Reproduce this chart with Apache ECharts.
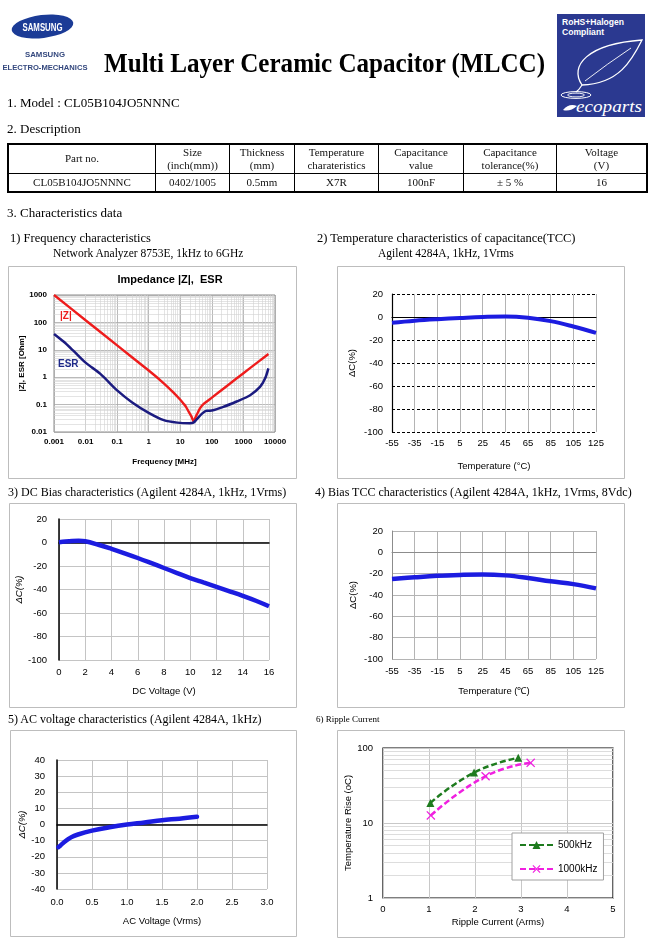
<!DOCTYPE html>
<html><head><meta charset="utf-8">
<script src="https://cdn.jsdelivr.net/npm/echarts@6/dist/echarts.min.js"></script>
<style>
body{margin:0;background:#fff;}
#page{position:relative;width:651px;height:943px;overflow:hidden;background:#fff;}
#chart{position:absolute;left:0;top:0;width:651px;height:943px;}
.t{position:absolute;white-space:nowrap;font-family:'Liberation Serif','Times New Roman',serif;color:#000;line-height:1;}
#desc{position:absolute;left:7px;top:143px;border-collapse:collapse;border:2px solid #000;font-family:'Liberation Serif',serif;font-size:11px;color:#111;}
#desc td{border:1px solid #000;text-align:center;padding:0;line-height:13px;}
</style></head>
<body>
<div id="page">
<div id="chart"></div>

<!-- header -->
<svg style="position:absolute;left:0;top:0" width="560" height="90">
  <ellipse cx="42.5" cy="26.5" rx="31" ry="11.5" transform="rotate(-7 42.5 26.5)" fill="#1b3b96"/>
  <text x="42.5" y="30.5" text-anchor="middle" font-family="Liberation Sans" font-weight="bold" font-size="10" fill="#fff" textLength="40" lengthAdjust="spacingAndGlyphs">SAMSUNG</text>
  <text x="45" y="56.5" text-anchor="middle" font-family="Liberation Sans" font-weight="bold" font-size="8" fill="#34487e" textLength="40" lengthAdjust="spacingAndGlyphs">SAMSUNG</text>
  <text x="45" y="69.5" text-anchor="middle" font-family="Liberation Sans" font-weight="bold" font-size="8" fill="#34487e" textLength="85" lengthAdjust="spacingAndGlyphs">ELECTRO-MECHANICS</text>
  <text x="104" y="72" font-family="Liberation Serif" font-weight="bold" font-size="28" fill="#000" textLength="441" lengthAdjust="spacingAndGlyphs">Multi Layer Ceramic Capacitor (MLCC)</text>
</svg>

<svg style="position:absolute;left:557px;top:14px" width="88" height="103">
  <rect x="0" y="0" width="88" height="103" fill="#2b3990"/>
  <text x="5" y="11" font-family="Liberation Sans" font-weight="bold" font-size="9.5" fill="#fff" textLength="62" lengthAdjust="spacingAndGlyphs">RoHS+Halogen</text>
  <text x="5" y="21" font-family="Liberation Sans" font-weight="bold" font-size="9.5" fill="#fff" textLength="42" lengthAdjust="spacingAndGlyphs">Compliant</text>
  <path d="M25 71 C12 52 30 30 85 26 C75 46 62 70 25 71 Z" fill="none" stroke="#fff" stroke-width="1.3"/>
  <path d="M28 67 Q50 50 74 34" fill="none" stroke="#fff" stroke-width="0.9"/>
  <path d="M25 71 Q22 76 19 78" fill="none" stroke="#fff" stroke-width="1.2"/>
  <ellipse cx="19" cy="81" rx="15" ry="3.4" fill="none" stroke="#fff" stroke-width="1"/>
  <ellipse cx="19" cy="81" rx="8.5" ry="1.9" fill="none" stroke="#fff" stroke-width="0.9"/>
  <path d="M6 96 Q12 89 20 92 Q13 98 6 96 Z" fill="#fff"/>
  <text x="19" y="98" font-family="Liberation Serif" font-style="italic" font-size="16" fill="#fff" textLength="66" lengthAdjust="spacingAndGlyphs">ecoparts</text>
</svg>

<div class="t" style="left:7px;top:96px;font-size:13px;">1. Model : CL05B104JO5NNNC</div>
<div class="t" style="left:7px;top:122px;font-size:13px;">2. Description</div>
<table id="desc">
  <tr style="height:29px">
    <td style="width:146px">Part no.</td>
    <td style="width:73px">Size<br>(inch(mm))</td>
    <td style="width:64px">Thickness<br>(mm)</td>
    <td style="width:83px">Temperature<br>charateristics</td>
    <td style="width:84px">Capacitance<br>value</td>
    <td style="width:92px">Capacitance<br>tolerance(%)</td>
    <td style="width:89px">Voltage<br>(V)</td>
  </tr>
  <tr style="height:19px">
    <td>CL05B104JO5NNNC</td><td>0402/1005</td><td>0.5mm</td><td>X7R</td><td>100nF</td><td>± 5 %</td><td>16</td>
  </tr>
</table>
<div class="t" style="left:7px;top:206px;font-size:13px;">3. Characteristics data</div>

<div class="t" style="left:10px;top:232px;font-size:12.5px;">1) Frequency characteristics</div>
<div class="t" style="left:53px;top:248px;font-size:11.5px;">Network Analyzer 8753E, 1kHz to 6GHz</div>
<div class="t" style="left:317px;top:232px;font-size:12.5px;">2) Temperature characteristics of capacitance(TCC)</div>
<div class="t" style="left:378px;top:248px;font-size:11.5px;">Agilent 4284A, 1kHz, 1Vrms</div>
<div class="t" style="left:8px;top:486px;font-size:12px;">3) DC Bias characteristics (Agilent 4284A, 1kHz, 1Vrms)</div>
<div class="t" style="left:315px;top:486px;font-size:12px;">4) Bias TCC characteristics (Agilent 4284A, 1kHz, 1Vrms, 8Vdc)</div>
<div class="t" style="left:8px;top:713px;font-size:12px;">5) AC voltage characteristics (Agilent 4284A, 1kHz)</div>
<div class="t" style="left:316px;top:715px;font-size:9px;">6) Ripple Current</div>
</div>

<script>
// ---------- data ----------
const freqTickLabels = ['0.001','0.01','0.1','1','10','100','1000','10000'];
const ohmTickLabels = ['0.01','0.1','1','10','100','1000'];
const zFreq = [0.001,0.01,0.1,1,3,6,10,12.5,15,18,20,23,26,33,42,54,100,300,1000,3000,6200];
const zOhm  = [1000,120,14.5,1.75,0.6,0.28,0.15,0.11,0.085,0.058,0.047,0.035,0.025,0.042,0.073,0.105,0.18,0.48,1.4,3.7,7.0];
const esrFreq = [0.001,0.002,0.004,0.01,0.03,0.1,0.3,1,3,8,20,26,33,48,69,87,230,610,1630,3400,4880,6170];
const esrOhm  = [38,20,9.5,3.4,1.3,0.33,0.12,0.05,0.027,0.022,0.021,0.022,0.029,0.046,0.06,0.06,0.083,0.13,0.22,0.45,0.91,2.1];

const tempLabels = ['-55','-35','-15','5','25','45','65','85','105','125'];
const tccValues  = [-5,-3.2,-1.9,-0.9,0,0.5,-0.6,-3.6,-8.3,-13.8];

const dcVolt  = [0,0.5,1,1.5,2,3,4,5,6,7,8,9,10,11,12,13,14,15,16];
const dcValues= [0.3,0.9,1.3,1.4,1.0,-1.9,-5.4,-9.2,-13.2,-17.4,-21.7,-26,-30.3,-34,-37.7,-41.5,-45.4,-49.6,-54.3];

const biasTccValues = [-25,-23.4,-22,-21.2,-20.8,-21.6,-24,-27.2,-29.8,-33.8];

const acVolt   = [0.02,0.05,0.1,0.2,0.3,0.5,0.75,1.0,1.25,1.5,1.75,2.0];
const acValues = [-14,-13,-11,-8,-6.2,-3.8,-1.7,0,1.3,2.7,3.6,4.8];

const rippleCurrent500  = [1.03,1.98,2.94];
const rippleRise500     = [18.5,47,74];
const rippleCurrent1000 = [1.04,2.23,3.21];
const rippleRise1000    = [12.6,42,63.5];
const rippleTickLabels  = ['1','10','100'];

// ---------- helpers ----------
const zip = (a,b) => a.map((v,i)=>[v,b[i]]);
function minorLog(minExp,maxExp){const o=[];for(let e=minExp;e<maxExp;e++)for(let m=2;m<=9;m++)o.push(m*Math.pow(10,e));return o;}
const logLabel = (labels,minExp) => v => labels[Math.round(Math.log10(v))-minExp] ?? '';
const SANS = 'Liberation Sans';
const lbl = (extra) => Object.assign({color:'#000',fontFamily:SANS,fontSize:9.5},extra||{});
const nm  = (extra) => Object.assign({color:'#000',fontFamily:SANS,fontSize:9.5},extra||{});
const BLUE = '#1c1ce0';

const chart = echarts.init(document.getElementById('chart'),null,{renderer:'canvas'});

const boxes = [[8,266,288,212],[337,266,287,212],[9,503,287,204],[337,503,287,204],[10,730,286,206],[337,730,287,207]];

const option = {
  animation:false,
  grid:[
    {left:54,top:295,width:221,height:137,show:true,borderColor:'#8a8a8a',borderWidth:1},
    {left:392,top:294,width:204,height:138},
    {left:59,top:519,width:210,height:141},
    {left:392,top:531,width:204,height:128},
    {left:57,top:760,width:210,height:129},
    {left:383,top:748,width:230,height:150,show:true,borderColor:'#000',borderWidth:1.2}
  ],
  xAxis:[
    {gridIndex:0,type:'log',logBase:10,min:0.001,max:10000,interval:1,
     axisLine:{show:false},axisTick:{show:false},
     axisLabel:lbl({fontSize:8,fontWeight:'bold',margin:6,formatter:logLabel(freqTickLabels,-3)}),
     splitLine:{show:true,lineStyle:{color:'#a8a8a8',width:0.8}},
     name:'Frequency [MHz]',nameLocation:'middle',nameGap:26,nameTextStyle:nm({fontSize:8,fontWeight:'bold'})},
    {gridIndex:1,type:'category',data:tempLabels,boundaryGap:false,
     axisLine:{lineStyle:{color:'#000',width:1.2}},axisTick:{show:false},
     axisLabel:lbl({margin:6,interval:0}),
     splitLine:{show:true,lineStyle:{color:'#b4b4b4',width:1}},
     name:'Temperature (°C)',nameLocation:'middle',nameGap:29,nameTextStyle:nm()},
    {gridIndex:2,type:'value',min:0,max:16,interval:2,
     axisLine:{lineStyle:{color:'#000',width:1.5}},axisTick:{show:false},
     axisLabel:lbl({margin:7}),
     splitLine:{show:true,lineStyle:{color:'#c4c4c4',width:1}},
     name:'DC Voltage (V)',nameLocation:'middle',nameGap:26,nameTextStyle:nm()},
    {gridIndex:3,type:'category',data:tempLabels,boundaryGap:false,
     axisLine:{lineStyle:{color:'#8c8c8c',width:1}},axisTick:{show:false},
     axisLabel:lbl({margin:7,interval:0}),
     splitLine:{show:true,lineStyle:{color:'#b4b4b4',width:1}},
     name:'Temperature (℃)',nameLocation:'middle',nameGap:27,nameTextStyle:nm()},
    {gridIndex:4,type:'value',min:0,max:3,interval:0.5,
     axisLine:{lineStyle:{color:'#000',width:1.5}},axisTick:{show:false},
     axisLabel:lbl({margin:8,formatter:v=>v.toFixed(1)}),
     splitLine:{show:true,lineStyle:{color:'#c4c4c4',width:1}},
     name:'AC Voltage (Vrms)',nameLocation:'middle',nameGap:27,nameTextStyle:nm()},
    {gridIndex:5,type:'value',min:0,max:5,interval:1,
     axisLine:{show:false},axisTick:{show:false},
     axisLabel:lbl({margin:6}),
     splitLine:{show:true,lineStyle:{color:'#c8c8c8',width:1}},
     name:'Ripple Current (Arms)',nameLocation:'middle',nameGap:19,nameTextStyle:nm()}
  ],
  yAxis:[
    {gridIndex:0,type:'log',logBase:10,min:0.01,max:1000,interval:1,
     axisLine:{show:false},axisTick:{show:false},
     axisLabel:lbl({fontSize:8,fontWeight:'bold',margin:7,formatter:logLabel(ohmTickLabels,-2)}),
     splitLine:{show:true,lineStyle:{color:'#a8a8a8',width:0.8}},
     name:'|Z|, ESR [Ohm]',nameLocation:'middle',nameGap:27,nameTextStyle:nm({fontSize:8,fontWeight:'bold'})},
    {gridIndex:1,type:'value',min:-100,max:20,interval:20,
     axisLine:{show:true,lineStyle:{color:'#000',width:1.2}},axisTick:{show:false},
     axisLabel:lbl({margin:9}),
     splitLine:{show:true,lineStyle:{color:'#000',width:1,type:[3,2]}},
     name:'ΔC(%)',nameLocation:'middle',nameGap:35,nameTextStyle:nm()},
    {gridIndex:2,type:'value',min:-100,max:20,interval:20,
     axisLine:{show:true,lineStyle:{color:'#000',width:1.5}},axisTick:{show:false},
     axisLabel:lbl({margin:12}),
     splitLine:{show:true,lineStyle:{color:'#c4c4c4',width:1}},
     name:'ΔC(%)',nameLocation:'middle',nameGap:33,nameTextStyle:nm({fontStyle:'italic'})},
    {gridIndex:3,type:'value',min:-100,max:20,interval:20,
     axisLine:{show:true,lineStyle:{color:'#8c8c8c',width:1}},axisTick:{show:false},
     axisLabel:lbl({margin:9}),
     splitLine:{show:true,lineStyle:{color:'#b4b4b4',width:1}},
     name:'ΔC(%)',nameLocation:'middle',nameGap:34,nameTextStyle:nm()},
    {gridIndex:4,type:'value',min:-40,max:40,interval:10,
     axisLine:{show:true,lineStyle:{color:'#000',width:1.5}},axisTick:{show:false},
     axisLabel:lbl({margin:12}),
     splitLine:{show:true,lineStyle:{color:'#c4c4c4',width:1}},
     name:'ΔC(%)',nameLocation:'middle',nameGap:29,nameTextStyle:nm({fontStyle:'italic'})},
    {gridIndex:5,type:'log',logBase:10,min:1,max:100,interval:1,
     axisLine:{show:false},axisTick:{show:false},
     axisLabel:lbl({margin:10,formatter:logLabel(rippleTickLabels,0)}),
     splitLine:{show:true,lineStyle:{color:'#c8c8c8',width:1}},
     name:'Temperature Rise (oC)',nameLocation:'middle',nameGap:30,nameTextStyle:nm()}
  ],
  legend:{
    data:['500kHz','1000kHz'],left:512,top:833,orient:'vertical',
    padding:[7,6,6,7],itemGap:14,itemWidth:33,itemHeight:10,
    borderColor:'#a0a0a0',borderWidth:1,backgroundColor:'#fff',
    textStyle:{color:'#000',fontFamily:SANS,fontSize:10}
  },
  graphic:[
    ...boxes.map(b=>({type:'rect',silent:true,z:0,shape:{x:b[0]+0.5,y:b[1]+0.5,width:b[2],height:b[3]},style:{fill:'none',stroke:'#bdbdbd',lineWidth:1}})),
    {type:'text',x:170,y:280,z:10,style:{text:'Impedance |Z|,  ESR',font:'bold 11px Liberation Sans',fill:'#000',textAlign:'center',align:'center',textVerticalAlign:'middle',verticalAlign:'middle'}},
    {type:'text',x:60,y:316,z:10,style:{text:'|Z|',font:'bold 10px Liberation Sans',fill:'#ee1c1c',textAlign:'left',align:'left',textVerticalAlign:'middle',verticalAlign:'middle'}},
    {type:'text',x:58,y:364,z:10,style:{text:'ESR',font:'bold 10px Liberation Sans',fill:'#1f2a8a',textAlign:'left',align:'left',textVerticalAlign:'middle',verticalAlign:'middle'}}
  ],
  series:[
    {type:'line',xAxisIndex:0,yAxisIndex:0,data:[[1,1]],symbol:'none',silent:true,z:1,lineStyle:{opacity:0},
     markLine:{silent:true,z:1,symbol:['none','none'],label:{show:false},animation:false,
       lineStyle:{color:'#d2d2d2',width:0.6,type:'solid'},
       data:[...minorLog(-3,4).map(v=>({xAxis:v})),...minorLog(-2,3).map(v=>({yAxis:v}))]}},
    {type:'line',xAxisIndex:5,yAxisIndex:5,data:[[1,1]],symbol:'none',silent:true,z:1,lineStyle:{opacity:0},
     markLine:{silent:true,z:1,symbol:['none','none'],label:{show:false},animation:false,
       lineStyle:{color:'#d4d4d4',width:0.8,type:'solid'},
       data:minorLog(0,2).map(v=>({yAxis:v}))}},
    {name:'|Z|',type:'line',xAxisIndex:0,yAxisIndex:0,data:zip(zFreq,zOhm),symbol:'none',smooth:0.2,z:6,
     lineStyle:{color:'#ee1c1c',width:2.4}},
    {name:'ESR',type:'line',xAxisIndex:0,yAxisIndex:0,data:zip(esrFreq,esrOhm),symbol:'none',smooth:0.3,z:6,
     lineStyle:{color:'#1b1b80',width:2.5}},
    {name:'TCC',type:'line',xAxisIndex:1,yAxisIndex:1,data:tccValues,symbol:'none',smooth:0.4,z:6,
     lineStyle:{color:BLUE,width:4}},
    {name:'DC Bias',type:'line',xAxisIndex:2,yAxisIndex:2,data:zip(dcVolt,dcValues),symbol:'none',smooth:0.4,z:6,
     lineStyle:{color:BLUE,width:4.5}},
    {name:'Bias TCC',type:'line',xAxisIndex:3,yAxisIndex:3,data:biasTccValues,symbol:'none',smooth:0.4,z:6,
     lineStyle:{color:BLUE,width:4.5}},
    {name:'AC',type:'line',xAxisIndex:4,yAxisIndex:4,data:zip(acVolt,acValues),symbol:'none',smooth:0.4,z:6,
     lineStyle:{color:BLUE,width:4.5,cap:'round'}},
    {name:'500kHz',type:'line',xAxisIndex:5,yAxisIndex:5,data:zip(rippleCurrent500,rippleRise500),smooth:0.5,z:6,
     symbol:'triangle',symbolSize:8,itemStyle:{color:'#1e7b1e'},
     lineStyle:{color:'#1e7b1e',width:2.5,type:[6,3]}},
    {name:'1000kHz',type:'line',xAxisIndex:5,yAxisIndex:5,data:zip(rippleCurrent1000,rippleRise1000),smooth:0.5,z:6,
     symbol:'path://M1,0 L5,4 L9,0 L10,1 L6,5 L10,9 L9,10 L5,6 L1,10 L0,9 L4,5 L0,1 Z',symbolSize:9,
     itemStyle:{color:'#f020e0'},
     lineStyle:{color:'#f020e0',width:2.5,type:[6,3]}}
  ]
};
chart.setOption(option);
</script>
</body></html>
